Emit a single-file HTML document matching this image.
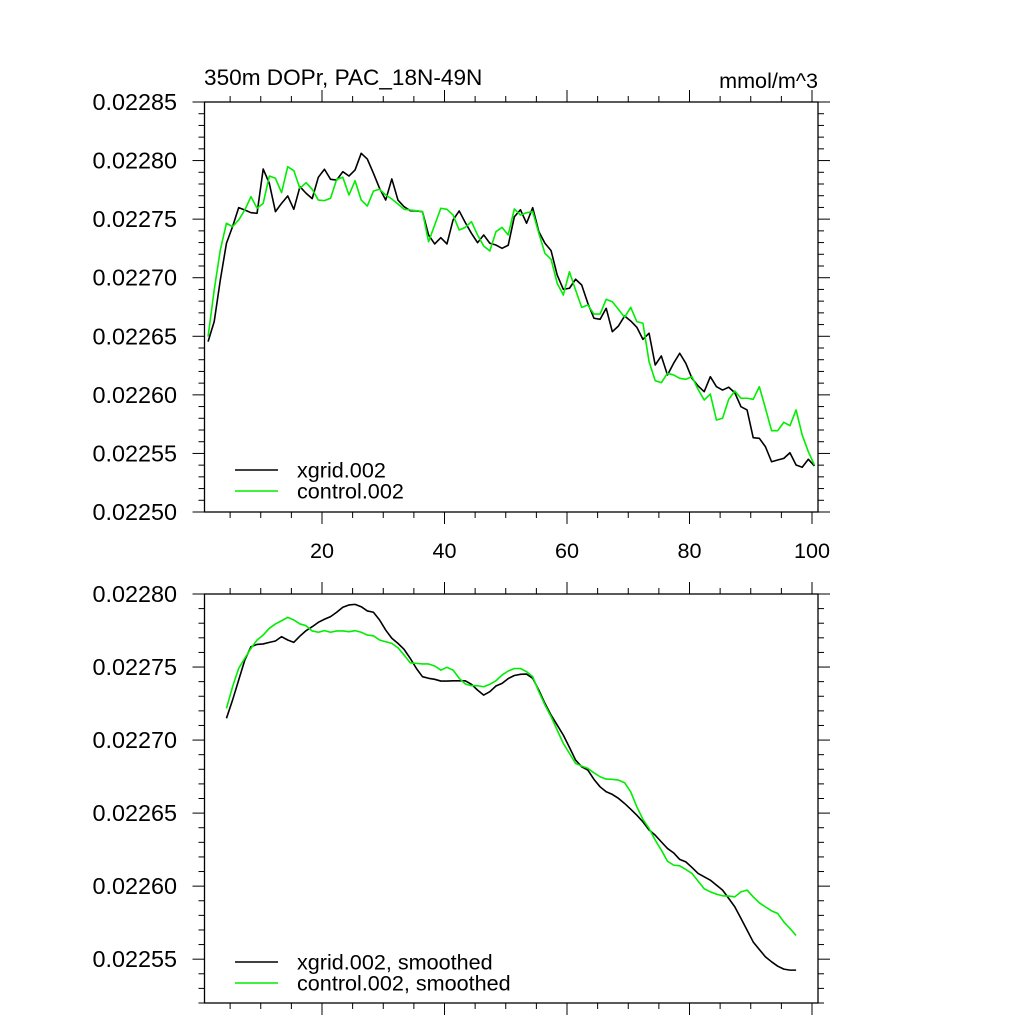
<!DOCTYPE html>
<html><head><meta charset="utf-8"><style>
html,body{margin:0;padding:0;background:#fff;}
svg{display:block;font-family:"Liberation Sans",Arial,sans-serif;}
</style></head><body>
<svg id="chart" width="1024" height="1024" viewBox="0 0 1024 1024" xmlns="http://www.w3.org/2000/svg">
<rect width="1024" height="1024" fill="#fff"/>
<text x="204" y="85" font-size="22.6">350m DOPr, PAC_18N-49N</text>
<text x="818" y="88" font-size="21.6" text-anchor="end">mmol/m^3</text>
<g id="top"></g>
<g id="bot"></g>
</svg>
<script>
const xgridRaw = [0.0226454,0.0226625,0.0226981,0.0227294,0.0227436,0.0227598,0.0227578,0.0227555,0.0227550,0.0227928,
0.0227806,0.0227564,0.0227635,0.0227698,0.0227584,0.0227777,0.0227721,0.0227675,0.0227857,0.0227926,
0.0227840,0.0227834,0.0227905,0.0227868,0.0227920,0.0228062,0.0228013,0.0227891,0.0227763,0.0227663,
0.0227843,0.0227663,0.0227606,0.0227572,0.0227570,0.0227564,0.0227365,0.0227288,0.0227342,0.0227288,
0.0227493,0.0227570,0.0227470,0.0227379,0.0227299,0.0227365,0.0227294,0.0227279,0.0227251,0.0227277,
0.0227520,0.0227580,0.0227465,0.0227598,0.0227393,0.0227294,0.0227231,0.0227023,0.0226901,0.0226910,
0.0226987,0.0226938,0.0226782,0.0226654,0.0226645,0.0226739,0.0226539,0.0226588,0.0226673,0.0226631,
0.0226577,0.0226474,0.0226526,0.0226255,0.0226332,0.0226170,0.0226269,0.0226355,0.0226269,0.0226141,
0.0226076,0.0226027,0.0226155,0.0226070,0.0226041,0.0226065,0.0226018,0.0225899,0.0225871,0.0225634,
0.0225629,0.0225557,0.0225429,0.0225444,0.0225458,0.0225506,0.0225401,0.0225382,0.0225450,0.0225393];
const controlRaw = [0.0226497,0.0226895,0.0227237,0.0227465,0.0227436,0.0227493,0.0227578,0.0227692,0.0227593,0.0227635,
0.0227868,0.0227849,0.0227726,0.0227948,0.0227914,0.0227763,0.0227811,0.0227755,0.0227663,0.0227658,
0.0227678,0.0227840,0.0227857,0.0227706,0.0227828,0.0227663,0.0227612,0.0227740,0.0227755,0.0227706,
0.0227672,0.0227629,0.0227584,0.0227578,0.0227572,0.0227564,0.0227307,0.0227450,0.0227593,0.0227584,
0.0227535,0.0227407,0.0227430,0.0227478,0.0227365,0.0227271,0.0227228,0.0227393,0.0227430,0.0227365,
0.0227587,0.0227535,0.0227555,0.0227564,0.0227379,0.0227208,0.0227157,0.0226952,0.0226852,0.0227051,
0.0226895,0.0226747,0.0226767,0.0226690,0.0226690,0.0226816,0.0226795,0.0226730,0.0226662,0.0226747,
0.0226625,0.0226611,0.0226283,0.0226121,0.0226104,0.0226184,0.0226170,0.0226141,0.0226133,0.0226155,
0.0226047,0.0225956,0.0226007,0.0225785,0.0225800,0.0225962,0.0226033,0.0225971,0.0225971,0.0225962,
0.0226070,0.0225885,0.0225694,0.0225694,0.0225766,0.0225737,0.0225871,0.0225657,0.0225515,0.0225401];
const smoothStart = 4;
const xgridSmooth = [0.0227149,0.0227274,0.0227411,0.0227548,0.0227639,0.0227655,0.0227658,0.0227669,0.0227678,0.0227708,
0.0227685,0.0227669,0.0227712,0.0227749,0.0227776,0.0227806,0.0227827,0.0227845,0.0227875,0.0227909,
0.0227925,0.0227929,0.0227913,0.0227884,0.0227875,0.0227822,0.0227753,0.0227697,0.0227662,0.0227621,
0.0227560,0.0227491,0.0227434,0.0227423,0.0227416,0.0227404,0.0227404,0.0227406,0.0227406,0.0227406,
0.0227382,0.0227342,0.0227308,0.0227331,0.0227370,0.0227388,0.0227421,0.0227442,0.0227450,0.0227452,
0.0227423,0.0227342,0.0227251,0.0227171,0.0227103,0.0227034,0.0226950,0.0226863,0.0226817,0.0226795,
0.0226731,0.0226680,0.0226646,0.0226628,0.0226601,0.0226566,0.0226527,0.0226486,0.0226440,0.0226384,
0.0226349,0.0226303,0.0226258,0.0226228,0.0226183,0.0226166,0.0226128,0.0226087,0.0226064,0.0226041,
0.0226007,0.0225973,0.0225916,0.0225858,0.0225779,0.0225699,0.0225618,0.0225566,0.0225516,0.0225482,
0.0225452,0.0225432,0.0225425,0.0225425];
const controlSmooth = [0.0227217,0.0227365,0.0227491,0.0227560,0.0227628,0.0227685,0.0227719,0.0227765,0.0227795,0.0227817,
0.0227840,0.0227822,0.0227795,0.0227783,0.0227747,0.0227738,0.0227749,0.0227738,0.0227747,0.0227747,
0.0227742,0.0227749,0.0227738,0.0227719,0.0227714,0.0227685,0.0227673,0.0227662,0.0227632,0.0227582,
0.0227529,0.0227525,0.0227521,0.0227521,0.0227507,0.0227479,0.0227498,0.0227479,0.0227423,0.0227384,
0.0227372,0.0227372,0.0227365,0.0227382,0.0227406,0.0227445,0.0227473,0.0227490,0.0227490,0.0227468,
0.0227434,0.0227331,0.0227240,0.0227160,0.0227068,0.0226977,0.0226909,0.0226840,0.0226822,0.0226806,
0.0226776,0.0226749,0.0226733,0.0226731,0.0226726,0.0226708,0.0226646,0.0226543,0.0226457,0.0226395,
0.0226315,0.0226247,0.0226171,0.0226144,0.0226139,0.0226114,0.0226087,0.0226034,0.0225982,0.0225961,
0.0225945,0.0225934,0.0225932,0.0225927,0.0225961,0.0225973,0.0225927,0.0225886,0.0225858,0.0225831,
0.0225813,0.0225755,0.0225710,0.0225662];
const xTickLabels = [20,40,60,80,100];
const topYTicks = ["0.02250","0.02255","0.02260","0.02265","0.02270","0.02275","0.02280","0.02285"];
const botYTicks = ["0.02255","0.02260","0.02265","0.02270","0.02275","0.02280"];
const topLegend = ["xgrid.002","control.002"];
const botLegend = ["xgrid.002, smoothed","control.002, smoothed"];

const NS = "http://www.w3.org/2000/svg";
const L = 204.5, R = 818;
const xOffset = 0.4;
function xs(v){ return 322 + (v - 20) * 6.125; }
function mk(tag, attrs, parent){ const e = document.createElementNS(NS, tag); for (const k in attrs) e.setAttribute(k, attrs[k]); parent.appendChild(e); return e; }

function panel(g, top, bottom, yTop, yBot, yLabels, showXLabels){
  const ys = v => top + (yTop - v) / (yTop - yBot) * (bottom - top);
  const frame = mk("rect", {x:L, y:top, width:R-L, height:bottom-top, fill:"none", stroke:"#000", "stroke-width":1.3}, g);
  
  
  for (let v = 5; v <= 100; v += 5) {
    const x = xs(v), major = v % 20 === 0, len = major ? 12 : 6;
    mk("line", {x1:x, x2:x, y1:bottom, y2:bottom+len, stroke:"#000", "stroke-width":1}, g);
    mk("line", {x1:x, x2:x, y1:top, y2:top-len, stroke:"#000", "stroke-width":1}, g);
  }
  if (showXLabels) xTickLabels.forEach(v => {
    const t = mk("text", {x:xs(v), y:bottom+46, "font-size":21.6, "text-anchor":"middle"}, g);
    t.textContent = v;
    
    
  });
  const step = 0.00001;
  for (let k = Math.ceil(yBot/step - 1e-6); k * step <= yTop + 1e-9; k++) {
    const v = k * step, y = ys(v), major = k % 5 === 0, len = major ? 12 : 6;
    mk("line", {x1:L, x2:L-len, y1:y, y2:y, stroke:"#000", "stroke-width":1}, g);
    mk("line", {x1:R, x2:R+len, y1:y, y2:y, stroke:"#000", "stroke-width":1}, g);
  }
  yLabels.forEach(s => {
    const t = mk("text", {x:177, y:ys(parseFloat(s))+8, "font-size":23.4, "text-anchor":"end"}, g);
    t.textContent = s;
    
    
  });
  return ys;
}
function series(g, data, start, ys, color, name){
  const pts = data.map((v,i) => xs(start + i + xOffset).toFixed(2) + "," + ys(v).toFixed(2)).join(" ");
  const p = mk("polyline", {points:pts, fill:"none", stroke:color, "stroke-width":1.6, "stroke-linejoin":"round"}, g);
  
  
}
function legend(g, labels, y0){
  const colors = ["#000","#00ee00"];
  labels.forEach((s,i) => {
    const y = y0 + i*21;
    const ln = mk("line", {x1:235, x2:278, y1:y, y2:y, stroke:colors[i], "stroke-width":1.6}, g);
    
    
    const t = mk("text", {x:297, y:y+7.5, "font-size":21.6}, g);
    t.textContent = s;
    
    
  });
}
const gt = document.getElementById("top");


const ysT = panel(gt, 102, 512, 0.02285, 0.02250, topYTicks, true);
series(gt, xgridRaw, 1, ysT, "#000", "xgrid-line");
series(gt, controlRaw, 1, ysT, "#00ee00", "control-line");
legend(gt, topLegend, 470);

const gb = document.getElementById("bot");


const ysB = panel(gb, 594, 1003, 0.02280, 0.02252, botYTicks, false);
series(gb, xgridSmooth, smoothStart, ysB, "#000", "xgrid-smoothed-line");
series(gb, controlSmooth, smoothStart, ysB, "#00ee00", "control-smoothed-line");
legend(gb, botLegend, 962);
</script>
</body></html>
